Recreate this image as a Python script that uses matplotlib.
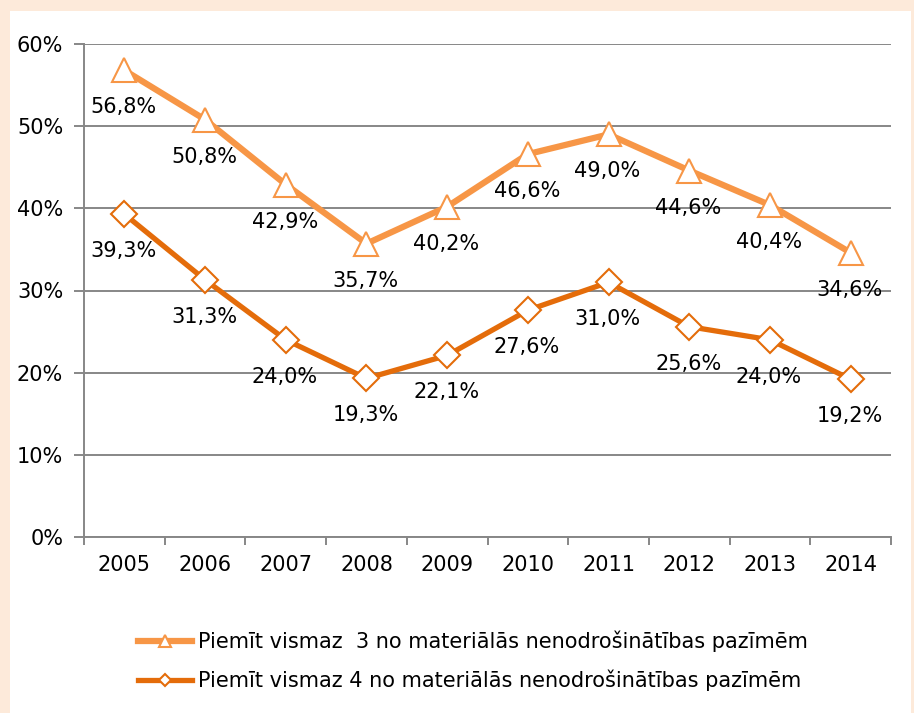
import matplotlib.pyplot as plt
from matplotlib.lines import Line2D
from matplotlib.patches import Rectangle

years = ['2005', '2006', '2007', '2008', '2009', '2010', '2011', '2012', '2013', '2014']
vals_3 = [56.8, 50.8, 42.9, 35.7, 40.2, 46.6, 49.0, 44.6, 40.4, 34.6]
vals_4 = [39.3, 31.3, 24.0, 19.3, 22.1, 27.6, 31.0, 25.6, 24.0, 19.2]
label_3 = 'Piemīt vismaz  3 no materiālās nenodrošinātības pazīmēm'
label_4 = 'Piemīt vismaz 4 no materiālās nenodrošinātības pazīmēm'
yticks = [0, 10, 20, 30, 40, 50, 60]

c_light = '#F79646'
c_dark = '#E46C0A'
grid_c = '#878787'
fs = 15

plt.rcParams['font.family'] = 'DejaVu Sans'

fig = plt.figure(figsize=(9.14, 7.13), dpi=100)
fig.patch.set_facecolor('#FDEADA')
fig.patches.append(Rectangle((10 / 914, 0), 901 / 914, 702 / 713, transform=fig.transFigure,
                             facecolor='white', edgecolor='none', zorder=-5))

ax = fig.add_axes([84 / 914, 1 - 537 / 713, (891 - 84) / 914, (537 - 44) / 713])
ax.set_facecolor('none')
ax.set_zorder(2)

x = list(range(len(years)))
ax.plot(x, vals_3, color=c_light, lw=4.5, marker='^', ms=17, mfc='white',
        mec=c_light, mew=1.5, zorder=3)
ax.plot(x, vals_4, color=c_dark, lw=3.8, marker='D', ms=13, mfc='white',
        mec=c_dark, mew=1.5, zorder=3)

for vals in (vals_3, vals_4):
    for i, v in enumerate(vals):
        ax.annotate(f'{v:.1f}%'.replace('.', ','), (i, v), xytext=(-1, -37),
                    textcoords='offset pixels', ha='center', va='center',
                    fontsize=fs, color='black', zorder=4)

ax.set_xlim(-0.5, 9.5)
ax.set_ylim(0, 60)
ax.set_yticks(yticks)
ax.set_yticklabels([f'{t}%' for t in yticks], fontsize=fs)
ax.set_xticks(x)
ax.set_xticklabels(years, fontsize=fs)
ax.set_xticks([i + 0.5 for i in range(-1, len(years))], minor=True)
ax.tick_params(axis='x', which='major', length=0, pad=13)
ax.tick_params(axis='x', which='minor', length=6, width=1.4, color=grid_c)
ax.tick_params(axis='y', length=7, width=1.4, color=grid_c, pad=8)
ax.yaxis.grid(True, color=grid_c, lw=1.4)
ax.set_axisbelow(True)
for s in ['top', 'right']:
    ax.spines[s].set_visible(False)
for s in ['left', 'bottom']:
    ax.spines[s].set_color(grid_c)
    ax.spines[s].set_linewidth(1.4)

handles = [
    Line2D([], [], color=c_light, lw=4.5, marker='^', ms=9, mfc='white', mec=c_light, mew=1.5),
    Line2D([], [], color=c_dark, lw=3.8, marker='D', ms=6, mfc='white', mec=c_dark, mew=1.5),
]
fig.legend(handles, [label_3, label_4], loc='upper left', bbox_to_anchor=(119 / 914, 1 - 612 / 713),
           frameon=False, fontsize=fs, handlelength=2.6, handletextpad=0.3, labelspacing=0.85)

fig.savefig('out.png', dpi=100, facecolor=fig.get_facecolor())
